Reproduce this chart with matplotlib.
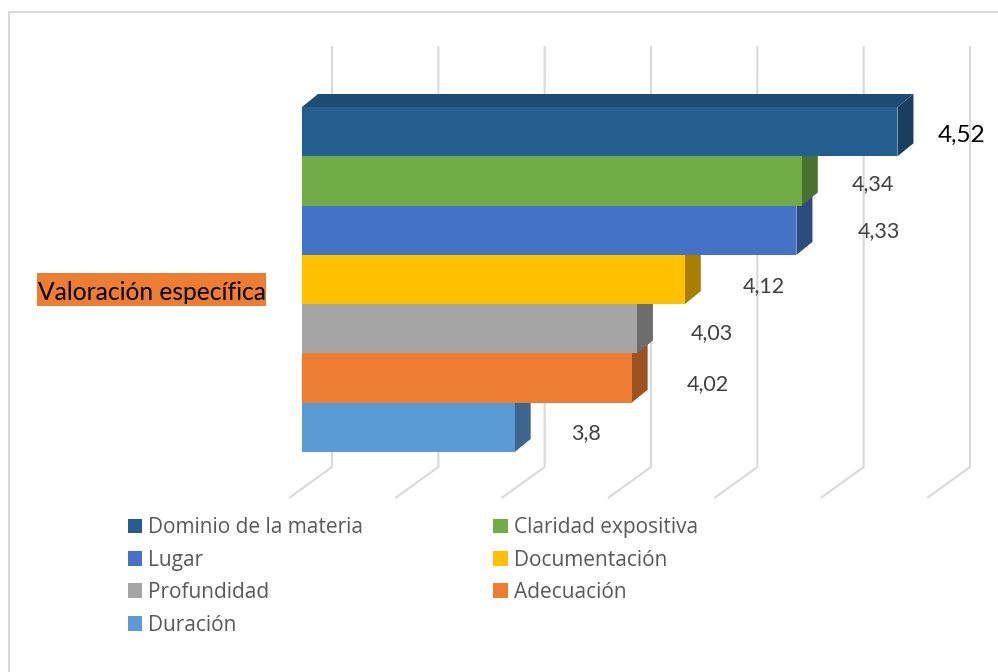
import matplotlib
matplotlib.use("Agg")
import matplotlib.pyplot as plt
from matplotlib.colors import to_rgb
from matplotlib.patches import Patch, Polygon, Rectangle

categorias = ["Dominio de la materia", "Claridad expositiva", "Lugar", "Documentación",
              "Profundidad", "Adecuación", "Duración"]
valores = [4.52, 4.34, 4.33, 4.12, 4.03, 4.02, 3.8]
etiquetas = ["4,52", "4,34", "4,33", "4,12", "4,03", "4,02", "3,8"]
colores = ["#255E91", "#70AD47", "#4472C4", "#FFC000", "#A5A5A5", "#ED7D31", "#5B9BD5"]
marcas_x = [3.4, 3.6, 3.8, 4.0, 4.2, 4.4, 4.6]
# desplazamiento de cada etiqueta desde el extremo de la barra, en pixeles (y hacia abajo)
offset_etiquetas = [(64, 2), (71.5, 1.5), (82, -1.5), (79.5, 5), (74.5, 2), (76.5, 4), (71, 4)]

W, H = 998, 672


def oscuro(c, f):
    return tuple(v * f for v in to_rgb(c))


fig = plt.figure(figsize=(W / 100, H / 100), dpi=100)

# marco del grafico
fondo = fig.add_axes([0, 0, 1, 1])
fondo.set_xlim(0, W)
fondo.set_ylim(H, 0)
fondo.axis("off")
fondo.plot([9, 9, W], [H, 12, 12], color="#D9D9D9", lw=1.5)

ax = fig.add_axes([302 / W, 1 - 452 / H, 638 / W, 345 / H])
ax.set_xlim(3.4, 4.6)
ax.set_ylim(7, 0)
ax.axis("off")

px = 1.2 / 638
py = 7 / 345
dx = 16 * px
dy = 13 * py

# rejilla con su suelo en perspectiva
for m in marcas_x:
    ax.plot([m + 30 * px, m + 30 * px, m - 13 * px],
            [-61 * py, 7 + 15 * py, 7 + 46 * py],
            color="#D9D9D9", lw=1.5, clip_on=False, zorder=1, solid_capstyle="butt")

# caras laterales, de abajo hacia arriba
for i in range(len(valores) - 1, -1, -1):
    v = valores[i]
    ax.add_patch(Polygon([(v, i), (v + dx, i - dy), (v + dx, i + 1 - dy), (v, i + 1)],
                         facecolor=oscuro(colores[i], 0.66), edgecolor="none",
                         clip_on=False, zorder=2 + (7 - i) * 0.01))

# cara superior de la primera barra
ax.add_patch(Polygon([(3.4, 0), (3.4 + dx, -dy), (valores[0] + dx, -dy), (valores[0], 0)],
                     facecolor=oscuro(colores[0], 0.8), edgecolor="none",
                     clip_on=False, zorder=3))

ax.barh(range(len(valores)), [v - 3.4 for v in valores], left=3.4, height=1,
        align="edge", color=colores, zorder=4)

for i, (v, t) in enumerate(zip(valores, etiquetas)):
    grande = i == 0
    ax.annotate(t, (v, i + 0.5),
                xytext=(offset_etiquetas[i][0] * 0.72, -offset_etiquetas[i][1] * 0.72),
                textcoords="offset points", ha="center", va="center_baseline", family="Lato",
                fontsize=17.5 if grande else 15.5, color="black" if grande else "#404040",
                annotation_clip=False, zorder=5)

# rotulo de la serie
fondo.add_patch(Rectangle((37, 273), 229, 33, facecolor="#ED7D31", edgecolor="none"))
fondo.text(38, 290, "Valoración específica", ha="left", va="center_baseline", family="Lato",
           fontsize=17.7, color="black")

orden = [0, 2, 4, 6, 1, 3, 5]
handles = [Patch(facecolor=colores[i], label=categorias[i]) for i in orden]
fondo.legend(handles=handles, ncol=2, loc="upper left", bbox_to_anchor=(123.5 / W, 1 - 513 / H),
             frameon=False, prop={"family": "Open Sans", "size": 15}, labelcolor="#595959",
             handlelength=0.7, handleheight=0.7, handletextpad=0.28, labelspacing=0.55,
             columnspacing=6.25, borderaxespad=0, borderpad=0.2)

fig.savefig("out.png", dpi=100)
